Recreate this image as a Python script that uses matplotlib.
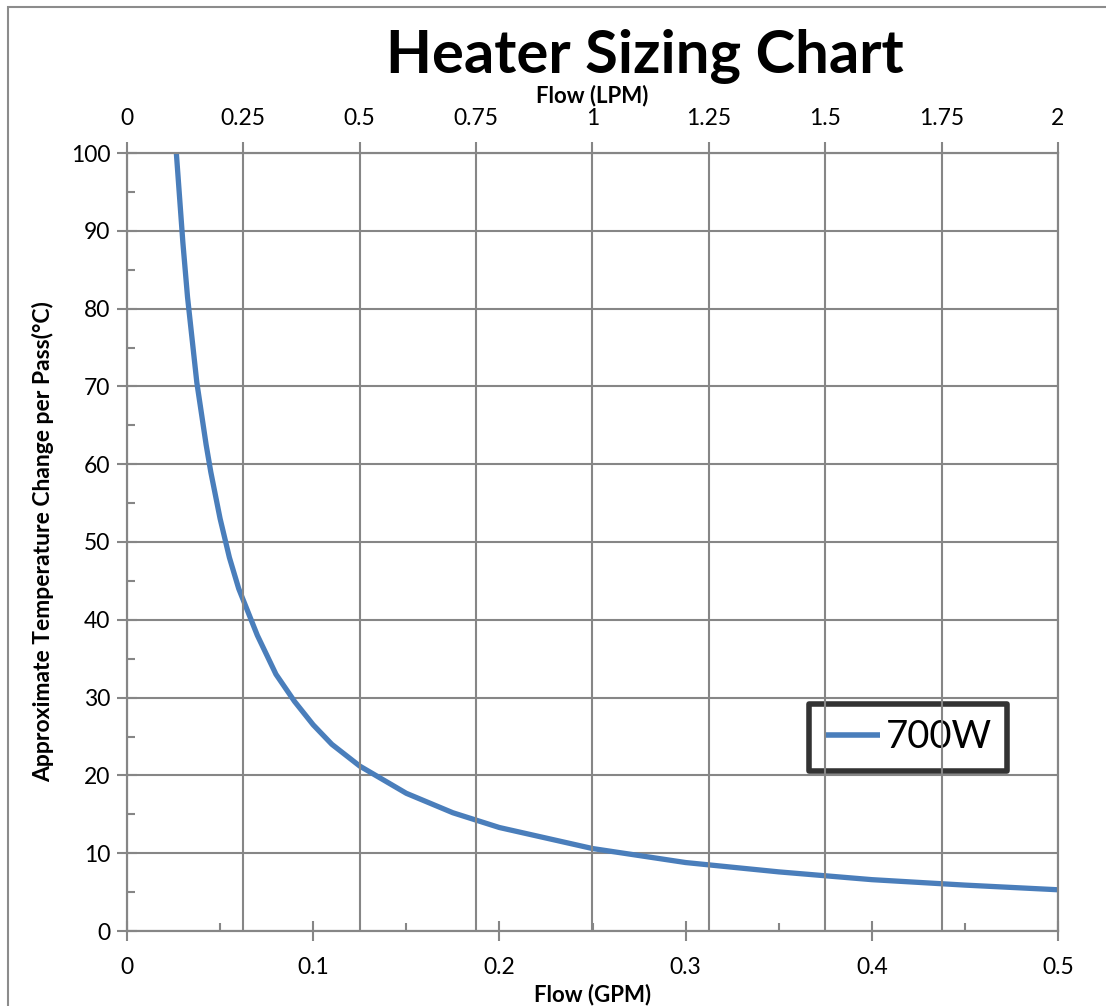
import matplotlib.pyplot as plt
from matplotlib.patches import Rectangle
from matplotlib.ticker import MultipleLocator

plt.rcParams["font.family"] = ["Lato", "DejaVu Sans"]

# 700W curve (GPM vs. deg C)
flow_gpm = [0.0265, 0.03, 0.0325, 0.035, 0.0375, 0.04, 0.0425, 0.045, 0.0475,
            0.05, 0.055, 0.06, 0.065, 0.07, 0.075, 0.08, 0.09, 0.1, 0.11,
            0.125, 0.15, 0.175, 0.2, 0.25, 0.3, 0.35, 0.4, 0.45, 0.5]
temp_change = [100, 88.5, 81.5, 76, 70.5, 66.5, 62.5, 59, 56,
               53, 48, 44, 41, 38, 35.5, 33, 29.5, 26.5, 24,
               21.2, 17.7, 15.2, 13.3, 10.6, 8.8, 7.6, 6.6, 5.9, 5.3]
series_name = "700W"

gpm_ticks = [0, 0.1, 0.2, 0.3, 0.4, 0.5]
gpm_labels = ["0", "0.1", "0.2", "0.3", "0.4", "0.5"]
lpm_ticks = [0, 0.25, 0.5, 0.75, 1, 1.25, 1.5, 1.75, 2]
lpm_labels = ["0", "0.25", "0.5", "0.75", "1", "1.25", "1.5", "1.75", "2"]
temp_ticks = list(range(0, 101, 10))

grid_col = "#868686"

fig = plt.figure(figsize=(11.06, 10.06), dpi=100)
ax = fig.add_axes([127 / 1106, 1 - 931 / 1006, 931 / 1106, 778 / 1006])

# outer chart border
fig.patches.append(Rectangle((8 / 1106, -0.05), 1.2, 1 - 7 / 1006 + 0.05,
                             transform=fig.transFigure, fill=False,
                             edgecolor="#8c8c8c", linewidth=1.5))

ax.plot(flow_gpm, temp_change, color="#4A7EBB", linewidth=3.8,
        solid_capstyle="butt", solid_joinstyle="round",
        label=series_name, zorder=3)

ax.set_xlim(0, 0.5)
ax.set_ylim(0, 100)
ax.set_xticks(gpm_ticks)
ax.set_xticklabels(gpm_labels)
ax.xaxis.set_minor_locator(MultipleLocator(0.05))
ax.set_yticks(temp_ticks)
ax.yaxis.set_minor_locator(MultipleLocator(5))
ax.grid(axis="y", color=grid_col, linewidth=1.5)
ax.set_axisbelow(True)

ax.tick_params(axis="both", which="major", direction="inout", length=14,
               width=1.5, color=grid_col, labelsize=16.5)
ax.tick_params(axis="x", which="major", pad=12)
ax.tick_params(axis="y", which="major", pad=5)
ax.tick_params(axis="both", which="minor", direction="in", length=6,
               width=1.5, color=grid_col)
for s in ax.spines.values():
    s.set_color(grid_col)
    s.set_linewidth(1.5)

ax.set_xlabel("Flow (GPM)", fontsize=16, fontweight="bold", labelpad=4)
ax.set_ylabel("Approximate Temperature Change per Pass(°C)", fontsize=16.5,
              fontweight="bold", labelpad=12)

# top axis in LPM
ax2 = ax.twiny()
ax2.set_xlim(0, 2)
ax2.set_xticks(lpm_ticks)
ax2.set_xticklabels(lpm_labels)
ax2.grid(axis="x", color=grid_col, linewidth=1.5)
ax2.set_axisbelow(True)
ax2.tick_params(axis="x", which="major", direction="out", length=8,
                width=1.5, color=grid_col, labelsize=16.5, pad=9)
for s in ax2.spines.values():
    s.set_color(grid_col)
    s.set_linewidth(1.5)
ax2.set_xlabel("Flow (LPM)", fontsize=16, fontweight="bold", labelpad=4)

fig.text(645 / 1106, 1 - 56 / 1006, "Heater Sizing Chart", fontsize=43,
         fontweight="bold", ha="center", va="center")

leg = ax.legend(loc="lower left", bbox_to_anchor=(0.733, 0.206),
                fontsize=27.5, frameon=True, fancybox=False, handlelength=1.45,
                handletextpad=0.15, borderpad=0.4, borderaxespad=0)
frame = leg.get_frame()
frame.set_edgecolor("black")
frame.set_linewidth(4)
frame.set_joinstyle("round")
leg.get_lines()[0].set_linewidth(4)
leg.set_zorder(5)

plt.savefig("out.png", dpi=100)
plt.close()
